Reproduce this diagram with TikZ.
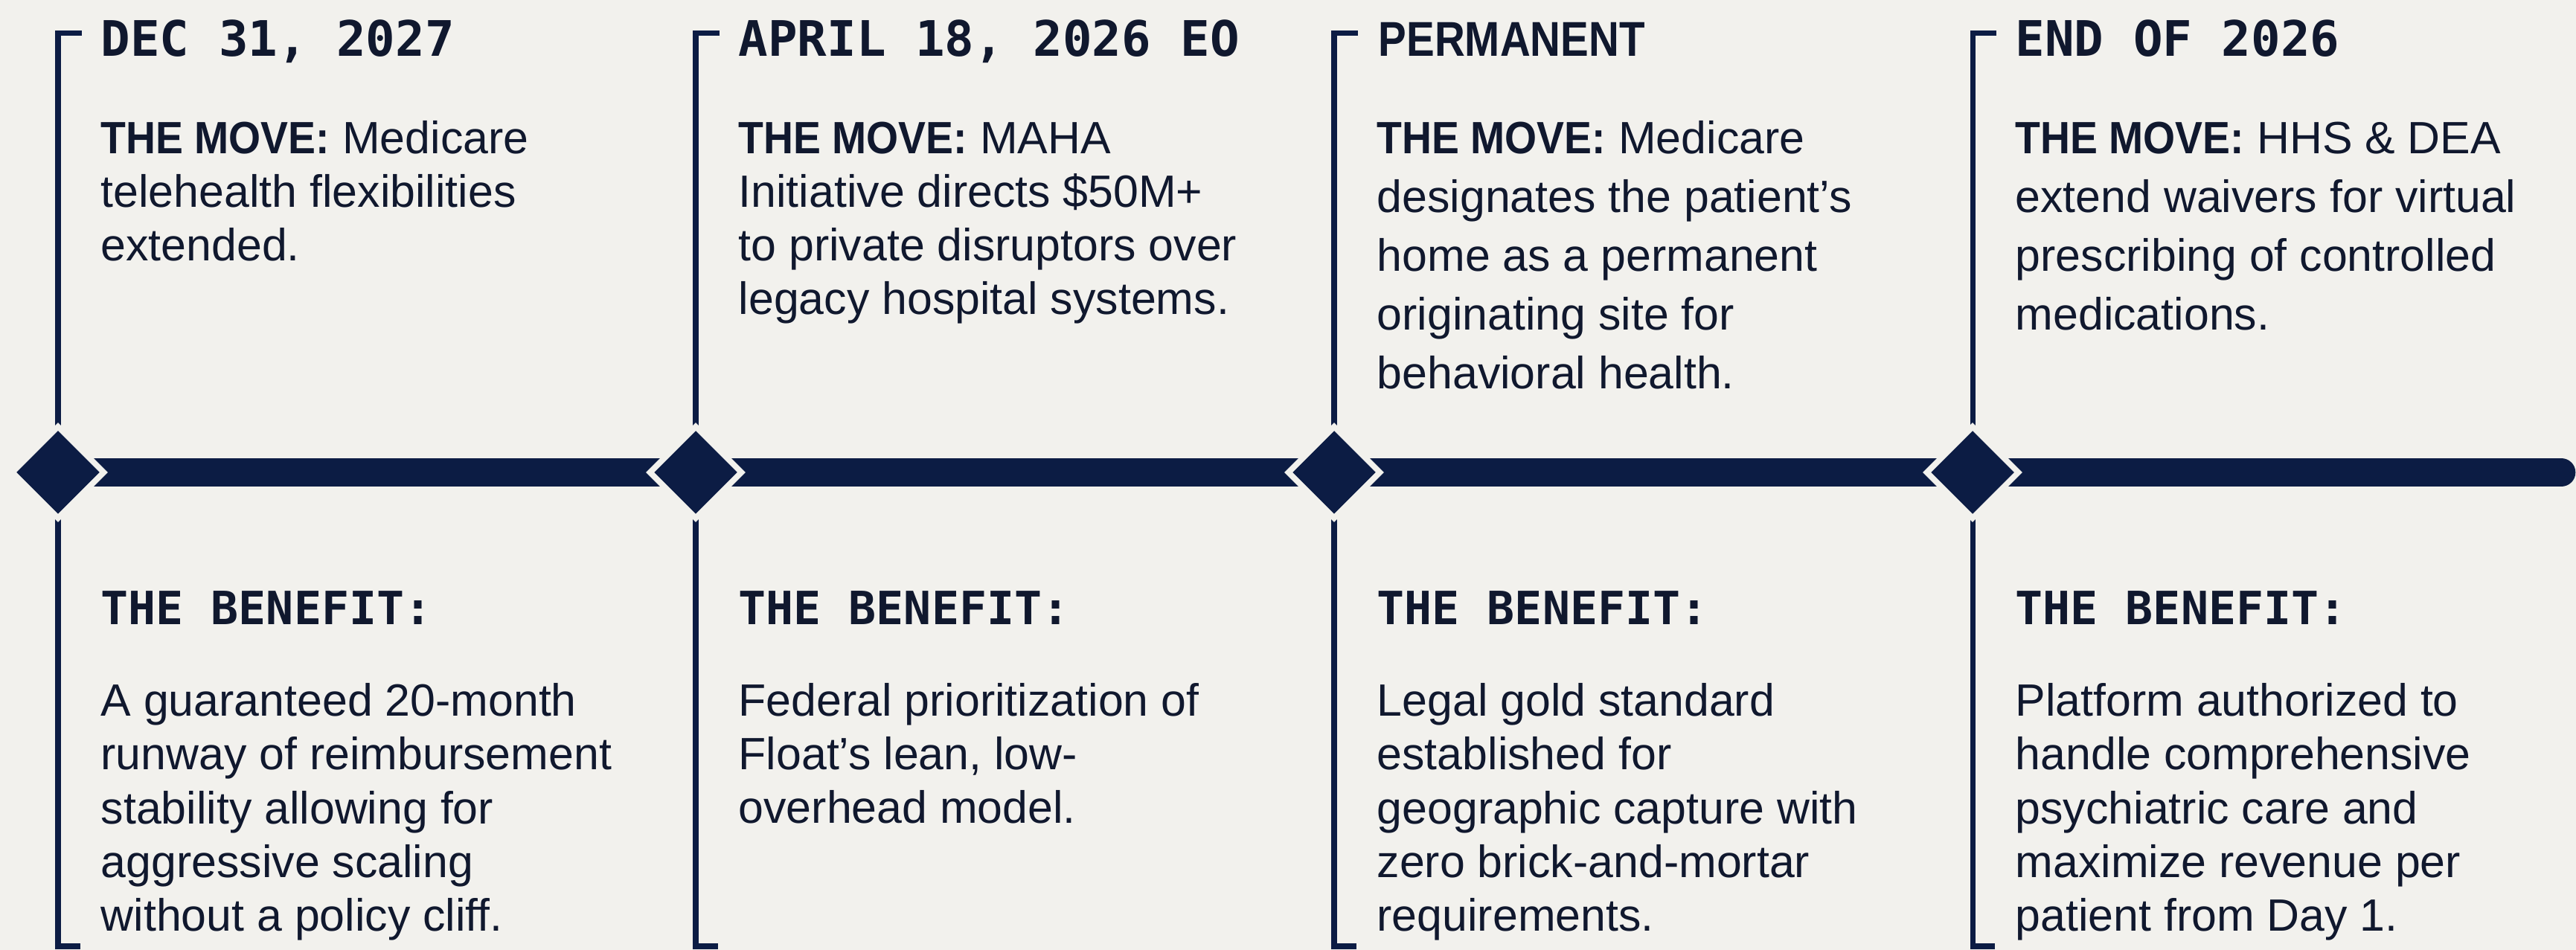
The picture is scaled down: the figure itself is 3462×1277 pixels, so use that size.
\documentclass[tikz,border=0pt]{standalone}
\usepackage{fontspec}
\setmainfont{Liberation Sans}
\newfontfamily\datefont{DejaVu Sans Mono}
\newfontfamily\leadfont{Liberation Sans}[FakeStretch=0.91]
\newfontfamily\narrowfont{Liberation Sans}[FakeStretch=0.86]
\usetikzlibrary{shapes.geometric}

\definecolor{paper}{HTML}{F2F1ED}
\definecolor{navy}{HTML}{0C1C44}
\definecolor{ink}{HTML}{10182E}

\tikzset{
  rail/.style={navy, line width=2pt, line join=miter},
  bar/.style={navy, line width=11pt, line cap=round},
  stamp/.style={diamond, minimum size=1.12cm, inner sep=0pt, fill=navy,
    preaction={draw=paper, line width=4.5pt}},
  datetxt/.style={anchor=base west, inner sep=0pt, text=ink,
    font=\datefont\bfseries\fontsize{18.7}{22}\selectfont},
  gaintxt/.style={anchor=base west, inner sep=0pt, text=ink,
    font=\datefont\bfseries\fontsize{17.5}{21}\selectfont},
  movetxt/.style={anchor=base west, inner sep=0pt, text=ink, align=left,
    font=\fontsize{17.3}{#1}\selectfont},
  movetxt/.default=20.5,
  bodytxt/.style={anchor=base west, inner sep=0pt, text=ink, align=left,
    font=\fontsize{17.3}{20.6}\selectfont}
}

\newcommand{\movehead}{{\leadfont\bfseries THE MOVE:}}

\begin{document}
\begin{tikzpicture}[x=0.01cm, y=-0.01cm]

\fill[paper] (0,0) rectangle (3462,1277);
\useasboundingbox (0,0) rectangle (3462,1277);

\draw[rail] (110,45) -- (78,45) -- (78,1272) -- (108,1272);
\draw[rail] (967,45) -- (935,45) -- (935,1272) -- (965,1272);
\draw[rail] (1825,45) -- (1793,45) -- (1793,1272) -- (1823,1272);
\draw[rail] (2683,45) -- (2651,45) -- (2651,1272) -- (2681,1272);

\coordinate (c1) at (78,635);
\coordinate (c2) at (935,635);
\coordinate (c3) at (1793,635);
\coordinate (c4) at (2651,635);
\coordinate (tail) at (3442,635);
\draw[bar] (c1) -- (tail);

\node[stamp] (d1) at (c1) {};
\node[stamp] (d2) at (c2) {};
\node[stamp] (d3) at (c3) {};
\node[stamp] (d4) at (c4) {};

\node[datetxt] (date1) at (135,76) {DEC 31, 2027};
\node[datetxt] (date2) at (992,76) {APRIL 18, 2026 EO};
\node[datetxt, font=\narrowfont\bfseries\fontsize{18.7}{22}\selectfont] (date3) at (1852,76) {PERMANENT};
\node[datetxt] (date4) at (2708,76) {END OF 2026};

% multi-line nodes sit on the baseline of their last line
\node[movetxt] (move1) at (135,351) {\movehead{} Medicare\\telehealth flexibilities\\extended.};
\node[movetxt] (move2) at (992,423) {\movehead{} MAHA\\Initiative directs \$50M+\\to private disruptors over\\legacy hospital systems.};
\node[movetxt=22.5] (move3) at (1850,523) {\movehead{} Medicare\\designates the patient’s\\home as a permanent\\originating site for\\behavioral health.};
\node[movetxt=22.5] (move4) at (2708,444) {\movehead{} HHS \& DEA\\extend waivers for virtual\\prescribing of controlled\\medications.};

\node[gaintxt] (gain1) at (135,840) {THE BENEFIT:};
\node[gaintxt] (gain2) at (992,840) {THE BENEFIT:};
\node[gaintxt] (gain3) at (1850,840) {THE BENEFIT:};
\node[gaintxt] (gain4) at (2708,840) {THE BENEFIT:};

\node[bodytxt] (body1) at (135,1252) {A guaranteed 20-month\\runway of reimbursement\\stability allowing for\\aggressive scaling\\without a policy cliff.};
\node[bodytxt] (body2) at (992,1107) {Federal prioritization of\\Float’s lean, low-\\overhead model.};
\node[bodytxt] (body3) at (1850,1252) {Legal gold standard\\established for\\geographic capture with\\zero brick-and-mortar\\requirements.};
\node[bodytxt] (body4) at (2708,1252) {Platform authorized to\\handle comprehensive\\psychiatric care and\\maximize revenue per\\patient from Day 1.};

\end{tikzpicture}
\end{document}
